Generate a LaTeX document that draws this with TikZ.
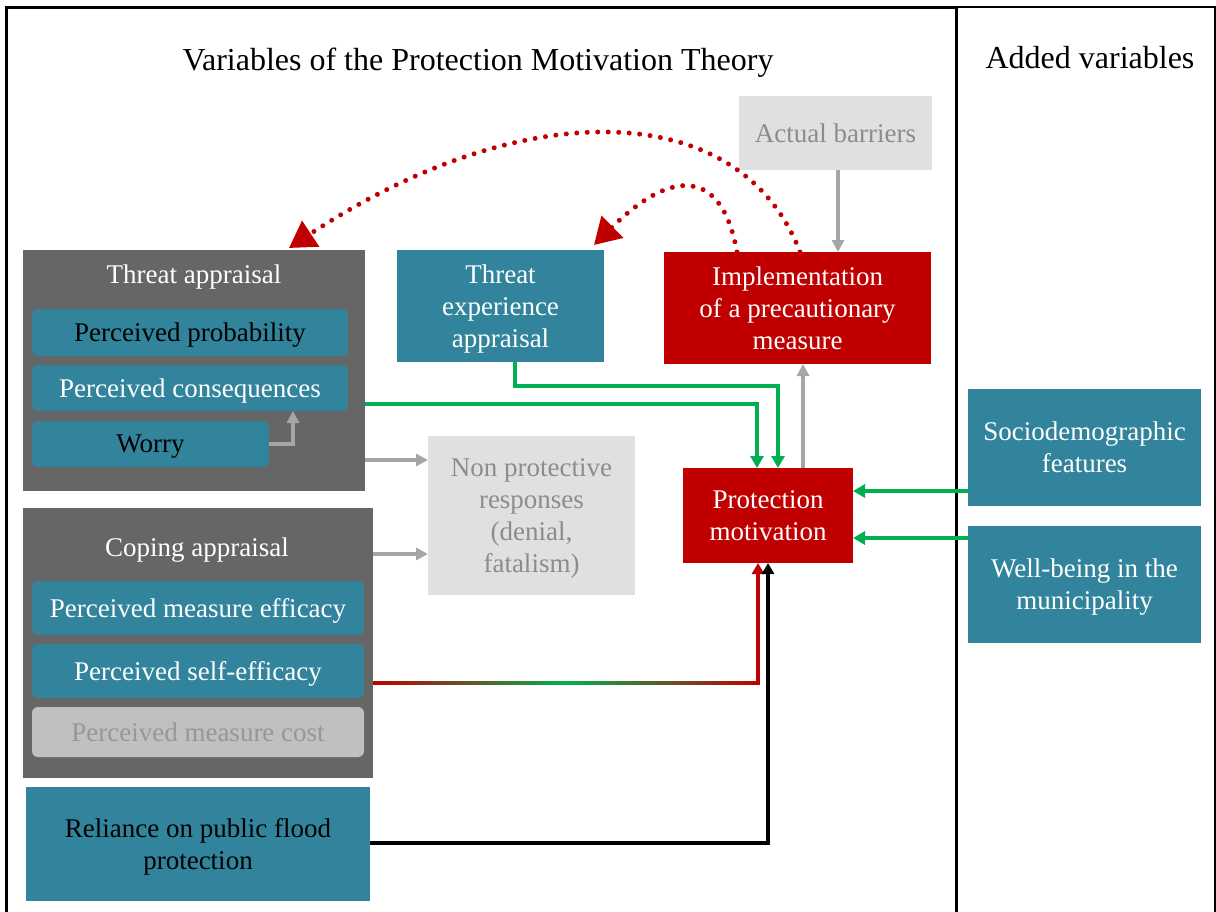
\documentclass[tikz,border=0pt]{standalone}
\usepackage{fontspec}
\setmainfont{Liberation Serif}
\usetikzlibrary{arrows.meta,calc}
\definecolor{teal1}{HTML}{31849B}
\definecolor{myred}{HTML}{C00000}
\definecolor{dgray}{HTML}{666666}
\definecolor{lgray}{HTML}{E0E0E0}
\definecolor{mgray}{HTML}{C0C0C0}
\definecolor{tgray}{HTML}{8C8C8C}
\definecolor{agray}{HTML}{A6A6A6}
\definecolor{mygreen}{HTML}{00B050}
\tikzset{
  base/.style={inner sep=0pt, outer sep=0pt, anchor=north west, align=center, font=\fontsize{27}{32}\selectfont, text depth=0pt},
  tealbox/.style={base, fill=teal1, text=white},
  redbox/.style={base, fill=myred, text=white},
  greybox/.style={base, fill=lgray, text=tgray},
  darkbox/.style={base, fill=dgray},
  subbox/.style={base, fill=teal1, rounded corners=6pt},
  garrow/.style={draw=mygreen, line width=3.5pt, -{Triangle[length=12pt,width=13pt]}},
  grayarrow/.style={draw=agray, line width=3.5pt, -{Triangle[length=12pt,width=12pt]}},
  blackarrow/.style={draw=black, line width=3.5pt, -{Triangle[length=11pt,width=12pt]}},
  redarrow/.style={draw=myred, line width=3.5pt, -{Triangle[length=11pt,width=12pt]}},
  dotarrow/.style={draw=myred, line width=5pt, line cap=round, dash pattern=on 0pt off 10.5pt, -{Triangle[length=26pt,width=30pt]}},
}
\begin{document}
\begin{tikzpicture}[x=1pt,y=-1pt]
\useasboundingbox (0,0) rectangle (1216,911);
% frame
\draw[line width=3pt] (6,913) -- (6,7) -- (957,7);
\draw[line width=2pt] (957,7) -- (1215,7) -- (1215,913);
\draw[line width=3pt] (956,7) -- (956,913);
% titles
\node[inner sep=0pt] (title) at (478,63) {\fontsize{32}{36}\selectfont Variables of the Protection Motivation Theory};
\node[inner sep=0pt] (added) at (1090,58) {\fontsize{32}{36}\selectfont Added variables};
% boxes
\node[greybox, minimum width=193pt, minimum height=74pt] (ab) at (739,96) {Actual barriers};
\node[darkbox, minimum width=342pt, minimum height=241pt] (ta) at (23,250) {};
\node[text=white, font=\fontsize{27}{32}\selectfont, inner sep=0pt] (tat) at (194,277) {Threat appraisal};
\node[subbox, text=black, minimum width=316pt, minimum height=47pt] (pp) at (32,309) {Perceived probability};
\node[subbox, text=white, minimum width=316pt, minimum height=46pt] (pc) at (32,365) {Perceived consequences};
\node[subbox, text=black, minimum width=237pt, minimum height=46pt] (wo) at (32,421) {Worry};
\node[tealbox, minimum width=207pt, minimum height=112pt] (te) at (397,250) {Threat\\experience\\appraisal};
\node[redbox, minimum width=267pt, minimum height=112pt] (im) at (664,252) {Implementation\\of a precautionary\\measure};
\node[greybox, minimum width=207pt, minimum height=159pt] (np) at (428,436) {Non protective\\responses\\(denial,\\fatalism)};
\node[redbox, minimum width=170pt, minimum height=95pt] (pm) at (683,468) {Protection\\motivation};
\node[darkbox, minimum width=350pt, minimum height=270pt] (ca) at (23,508) {};
\node[text=white, font=\fontsize{27}{32}\selectfont, inner sep=0pt] (cat) at (197,550) {Coping appraisal};
\node[subbox, text=white, minimum width=332pt, minimum height=54pt] (me) at (32,581) {Perceived measure efficacy};
\node[subbox, text=white, minimum width=332pt, minimum height=54pt] (se) at (32,644) {Perceived self-efficacy};
\node[subbox, fill=mgray, text=tgray!90, minimum width=332pt, minimum height=50pt] (mc) at (32,707) {Perceived measure cost};
\node[tealbox, text=black, minimum width=344pt, minimum height=114pt] (rel) at (26,787) {Reliance on public flood\\protection};
\node[tealbox, minimum width=233pt, minimum height=117pt] (sd) at (968,389) {Sociodemographic\\features};
\node[tealbox, minimum width=233pt, minimum height=117pt] (wb) at (968,526) {Well-being in the\\municipality};
% connectors
\draw[grayarrow] (wo.east) -- (wo.east -| 293,0) -- ([xshift=-55pt]pc.south east);
\draw[grayarrow] (ab.south -| 838,0) -- (im.north -| 838,0);
\draw[grayarrow] ([xshift=35pt]pm.north) -- ([xshift=35pt]pm.north |- im.south);
\draw[garrow] (ta.east |- 0,404) -| ([xshift=-11pt]pm.north);
\draw[garrow] (te.south -| 515,0) |- (778,386) -- ([xshift=10pt]pm.north);
\draw[grayarrow] (ta.east |- 0,460) -- (np.west |- 0,460);
\draw[grayarrow] (ca.east |- 0,554) -- (np.west |- 0,554);
\shade[left color=myred, right color=myred, middle color=mygreen] (ca.east |- 0,681.25) rectangle (759.75,684.75);
\draw[redarrow] ([xshift=-10pt]pm.south |- 0,684.75) -- ([xshift=-10pt]pm.south);
\draw[blackarrow] (rel.east |- 0,843) -| (pm.south);
\draw[garrow] (sd.west |- 0,491) -- (pm.east |- 0,491);
\draw[garrow] (wb.west |- 0,538) -- (pm.east |- 0,538);
% dotted feedback arcs
\draw[dotarrow] (im.north -| 800,0) .. controls (740,95) and (520,95) .. (289,248);
\draw[dotarrow] (im.north -| 737,0) .. controls (722,168) and (672,168) .. (594,245);
\end{tikzpicture}
\end{document}
